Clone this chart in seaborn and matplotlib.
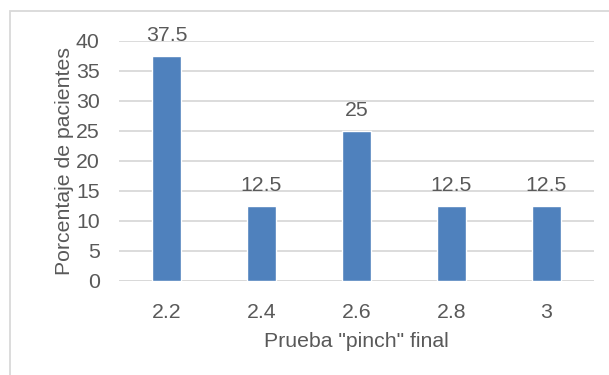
import matplotlib
matplotlib.use("Agg")
import matplotlib.pyplot as plt
import seaborn as sns
import pandas as pd
from matplotlib.patches import Rectangle

# Results of the final "pinch" test
categorias = ["2.2", "2.4", "2.6", "2.8", "3"]
porcentajes = [37.5, 12.5, 25, 12.5, 12.5]
etiquetas = ["37.5", "12.5", "25", "12.5", "12.5"]
yticks = [0, 5, 10, 15, 20, 25, 30, 35, 40]

sns.set_theme(style="white")
plt.rcParams["font.family"] = ["Liberation Sans", "DejaVu Sans"]

TEXT = "#595959"
GRID = "#D9D9D9"
BAR = "#4F81BD"
FS = 15.3

df = pd.DataFrame({"prueba": categorias, "pct": porcentajes})

fig = plt.figure(figsize=(6.09, 3.75), dpi=100)
ax = fig.add_axes([119 / 609, 94 / 375, 475 / 609, 240 / 375])

sns.barplot(data=df, x="prueba", y="pct", order=categorias, color=BAR,
            saturation=1, width=0.31, ax=ax, zorder=3)

ax.set_ylim(0, 40)
ax.set_xlim(-0.5, len(categorias) - 0.5)
ax.set_yticks(yticks)
ax.set_yticklabels([str(t) for t in yticks])
ax.yaxis.grid(True, color=GRID, linewidth=1.3, zorder=0)
ax.xaxis.grid(False)
for s in ax.spines.values():
    s.set_visible(False)
ax.axhline(0, color=GRID, linewidth=1.3, zorder=2)
ax.tick_params(axis="y", length=0, pad=14, labelsize=FS, labelcolor=TEXT)
ax.tick_params(axis="x", length=0, pad=15.5, labelsize=FS, labelcolor=TEXT)

ax.set_xlabel('Prueba "pinch" final', fontsize=FS, color=TEXT, labelpad=7.5)
ax.set_ylabel("Porcentaje de pacientes", fontsize=FS, color=TEXT, labelpad=1.2)

for i, (v, lab) in enumerate(zip(porcentajes, etiquetas)):
    ax.annotate(lab, (i, v), xytext=(0, 14.8), textcoords="offset points",
                ha="center", va="center", fontsize=FS, color=TEXT,
                annotation_clip=False)

# Chart frame
fig.patches.append(Rectangle((10 / 609, -0.1), 1.2, 1.1 - 11 / 375,
                             transform=fig.transFigure, fill=False,
                             edgecolor=GRID, linewidth=1.3))

fig.savefig("out.png", dpi=100)
